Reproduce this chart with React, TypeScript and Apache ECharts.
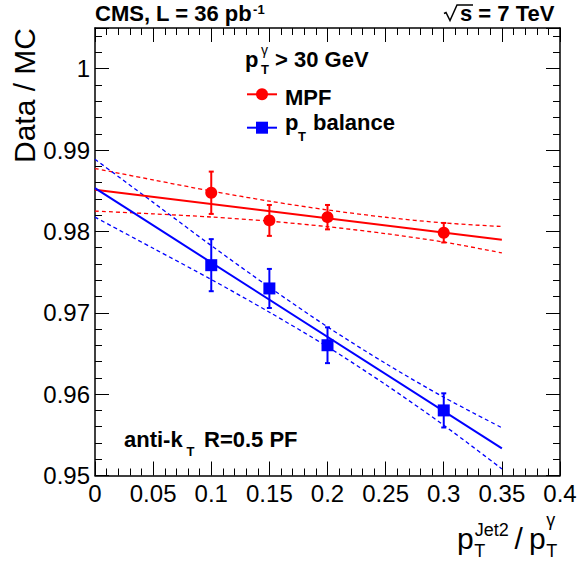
import React, { useEffect, useRef } from 'react';
import * as echarts from 'echarts';

// ---- data ----
const xFit = [0, 0.05, 0.1, 0.15, 0.2, 0.25, 0.3, 0.35];
const mpfBandUpper = [0.98773, 0.98633, 0.98496, 0.98372, 0.98264, 0.98174, 0.98104, 0.9806];
const mpfBandLower = [0.9825, 0.98216, 0.98177, 0.98126, 0.98058, 0.97973, 0.97869, 0.97736];
const ptBandUpper = [0.98887, 0.98357, 0.97826, 0.97314, 0.96827, 0.96377, 0.95962, 0.95587];
const ptBandLower = [0.98175, 0.97793, 0.97409, 0.97007, 0.96582, 0.96117, 0.95618, 0.95081];
const fitX = [0, 0.35];
const mpfFit = [0.98512, 0.97898];
const ptFit = [0.98531, 0.95334];

const xPts = [0.1, 0.15, 0.2, 0.3];
const mpfVal = [0.98475, 0.98135, 0.98175, 0.97984];
const mpfErr = [0.0026, 0.0019, 0.0015, 0.0012];
const ptVal = [0.97585, 0.97299, 0.96601, 0.958];
const ptErr = [0.0032, 0.0024, 0.0022, 0.0021];

const xTicks = { min: 0, max: 0.4, interval: 0.05 };
const yTicks = { min: 0.95, max: 1.005, interval: 0.01 };

const RED = '#ff0000';
const BLUE = '#0000ff';
const FONT = "'Liberation Sans', Arial, Helvetica, sans-serif";

function measure(text: string, size: number, bold: boolean) {
  const c = document.createElement('canvas').getContext('2d')!;
  c.font = `${bold ? 'bold ' : ''}${size}px ${FONT}`;
  return c.measureText(text).width;
}

function txt(x: number, y: number, text: string, size: number, bold = false, align = 'left', extra: any = {}) {
  return {
    type: 'text',
    x,
    y,
    silent: true,
    ...extra,
    style: {
      text,
      fontSize: size,
      fontWeight: bold ? 'bold' : 'normal',
      fontFamily: FONT,
      fill: '#000',
      align,
      textAlign: align,
      verticalAlign: 'middle',
      textVerticalAlign: 'middle',
    },
  };
}

export default function App() {
  const ref = useRef<HTMLDivElement>(null);
  useEffect(() => {
    const chart = echarts.init(ref.current!, null, { renderer: 'svg' });

    const axisCommon: any = {
      type: 'value',
      axisLine: { show: true, onZero: false, lineStyle: { color: '#000', width: 1.5 } },
      axisTick: { show: true, inside: true, length: 14, lineStyle: { color: '#000', width: 1 } },
      minorTick: { show: true, splitNumber: 5, length: 7, lineStyle: { color: '#000', width: 1 } },
      splitLine: { show: false },
      minorSplitLine: { show: false },
    };
    const labelStyle = { fontSize: 24, color: '#000', fontFamily: FONT };

    const band = (vals: number[], color: string) => ({
      type: 'line',
      data: xFit.map((x, i) => [x, vals[i]]),
      smooth: 0.3,
      showSymbol: false,
      symbol: 'none',
      silent: true,
      lineStyle: { color, width: 1.3, type: [4, 3] },
      z: 2,
    });
    const fit = (vals: number[], color: string) => ({
      type: 'line',
      data: fitX.map((x, i) => [x, vals[i]]),
      showSymbol: false,
      symbol: 'none',
      silent: true,
      lineStyle: { color, width: 2 },
      z: 3,
    });
    const errBars = (vals: number[], errs: number[], color: string) => ({
      type: 'custom',
      data: xPts.map((x, i) => [x, vals[i], errs[i]]),
      encode: { x: 0, y: 1 },
      silent: true,
      z: 4,
      renderItem: (params: any, api: any) => {
        const x = api.value(0);
        const y = api.value(1);
        const e = api.value(2);
        const t = api.coord([x, y + e]);
        const b = api.coord([x, y - e]);
        const st = { stroke: color, lineWidth: 2 };
        return {
          type: 'group',
          children: [
            { type: 'line', shape: { x1: t[0], y1: t[1], x2: b[0], y2: b[1] }, style: st },
            { type: 'line', shape: { x1: t[0] - 2.5, y1: t[1], x2: t[0] + 2.5, y2: t[1] }, style: st },
            { type: 'line', shape: { x1: b[0] - 2.5, y1: b[1], x2: b[0] + 2.5, y2: b[1] }, style: st },
          ],
        };
      },
    });
    const markers = (vals: number[], symbol: string, size: number, color: string) => ({
      type: 'scatter',
      data: xPts.map((x, i) => [x, vals[i]]),
      symbol,
      symbolSize: size,
      silent: true,
      itemStyle: { color, opacity: 1 },
      z: 5,
    });

    const titleMain = 'CMS, L = 36 pb';
    const titleW = measure(titleMain, 22, true);
    const sStart = 460;
    const pW = measure('p', 30, false);

    const graphic: any[] = [
      txt(95, 13.5, titleMain, 22, true),
      txt(95 + titleW + 1, 9, '-1', 13, true),
      {
        type: 'polyline',
        silent: true,
        shape: {
          points: [
            [sStart - 16, 13.5],
            [sStart - 14, 12.5],
            [sStart - 10, 20.5],
            [sStart - 3, 5],
            [sStart + 13, 5],
          ],
        },
        style: { stroke: '#000', lineWidth: 1.5, fill: 'none' },
      },
      txt(sStart, 13.5, 's = 7 TeV', 22, true),
      // y axis title
      txt(24.5, 28, 'Data / MC', 30, false, 'right', { rotation: Math.PI / 2 }),
      // x axis title
      txt(457, 538, 'p', 30),
      txt(457 + pW + 0.5, 551, 'T', 18),
      txt(457 + pW + 1, 530, 'Jet2', 18),
      txt(514.5, 538, '/', 30),
      txt(529, 538, 'p', 30),
      txt(529 + pW + 0.5, 520, 'γ', 18),
      txt(529 + pW + 0.5, 551, 'T', 18),
      // legend header
      txt(245, 59.5, 'p', 22, true),
      txt(261, 50, 'γ', 14),
      txt(261, 69, 'T', 13, true),
      txt(275, 59.5, '> 30 GeV', 22, true),
      // legend entries
      { type: 'line', silent: true, shape: { x1: 247, y1: 94.3, x2: 277, y2: 94.3 }, style: { stroke: RED, lineWidth: 2 } },
      { type: 'circle', silent: true, shape: { cx: 262, cy: 94.3, r: 6 }, style: { fill: RED } },
      txt(285, 97.5, 'MPF', 22, true),
      { type: 'line', silent: true, shape: { x1: 247, y1: 127.7, x2: 277, y2: 127.7 }, style: { stroke: BLUE, lineWidth: 2 } },
      { type: 'rect', silent: true, shape: { x: 256, y: 121.7, width: 12, height: 12 }, style: { fill: BLUE } },
      txt(285, 122.5, 'p', 22, true),
      txt(298, 136, 'T', 13, true),
      txt(313, 122.5, 'balance', 22, true),
      // jet algo label
      txt(124, 439, 'anti-k', 22, true),
      txt(186.5, 451, 'T', 13, true),
      txt(204, 439, 'R=0.5 PF', 22, true),
    ];

    const option: any = {
      animation: false,
      backgroundColor: '#fff',
      grid: { left: 95, right: 26, top: 28, bottom: 89.5, containLabel: false },
      xAxis: [
        { ...axisCommon, position: 'bottom', ...xTicks, axisLabel: { ...labelStyle, margin: 6 } },
        { ...axisCommon, position: 'top', ...xTicks, axisLabel: { show: false } },
      ],
      yAxis: [
        { ...axisCommon, position: 'left', ...yTicks, axisLabel: { ...labelStyle, margin: 5, showMaxLabel: false } },
        { ...axisCommon, position: 'right', ...yTicks, axisLabel: { show: false } },
      ],
      series: [
        band(mpfBandUpper, RED),
        band(mpfBandLower, RED),
        band(ptBandUpper, BLUE),
        band(ptBandLower, BLUE),
        fit(mpfFit, RED),
        fit(ptFit, BLUE),
        errBars(mpfVal, mpfErr, RED),
        errBars(ptVal, ptErr, BLUE),
        markers(mpfVal, 'circle', 12, RED),
        markers(ptVal, 'rect', 12, BLUE),
      ],
      graphic,
    };
    chart.setOption(option);
    return () => chart.dispose();
  }, []);
  return (
    <div
      ref={ref}
      style={{ position: 'fixed', left: 0, top: 0, width: 586, height: 565, background: '#fff' }}
    />
  );
}
